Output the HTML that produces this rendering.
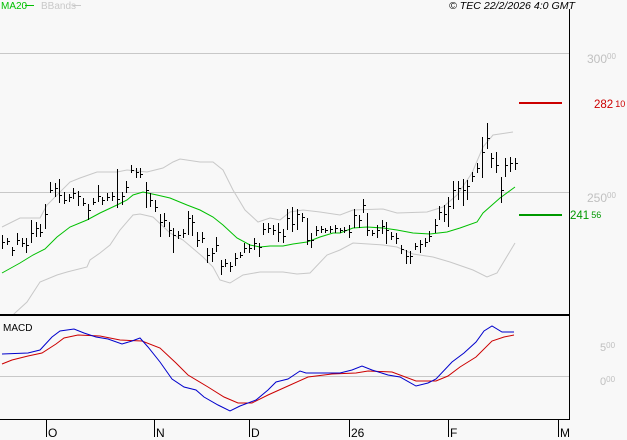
<!DOCTYPE html>
<html><head><meta charset="utf-8"><style>
html,body{margin:0;padding:0;background:#f8f8f8;}
svg{display:block;font-family:"Liberation Sans",sans-serif;}
</style></head><body>
<svg width="627" height="440" viewBox="0 0 627 440" xmlns="http://www.w3.org/2000/svg">
<rect x="0" y="0" width="627" height="440" fill="#f8f8f8"/>
<text x="1" y="9" font-size="10" fill="#00c000">MA20</text>
<line x1="25" y1="5.5" x2="34" y2="5.5" stroke="#00c000" stroke-width="1"/>
<text x="41" y="9" font-size="10" fill="#c8c8c8">BBands</text>
<line x1="73" y1="5.5" x2="81" y2="5.5" stroke="#c8c8c8" stroke-width="1"/>
<text x="449" y="9" font-size="10.5" font-style="italic" fill="#000" textLength="126" lengthAdjust="spacingAndGlyphs">© TEC 22/2/2026 4:0 GMT</text>
<g shape-rendering="crispEdges">
<line x1="0" y1="53.5" x2="569" y2="53.5" stroke="#c8c8c8"/>
<line x1="0" y1="192.5" x2="569" y2="192.5" stroke="#c8c8c8"/>
<line x1="0" y1="376.5" x2="569" y2="376.5" stroke="#c8c8c8"/>
</g>
<g fill="none" stroke="#c8c8c8" stroke-width="1">
<polyline points="2,227 20,218 40,218 47,205 70,182 80,178 97,172 117,172 127,170 147,172 163,168 173,162 180,159 200,162 213,162 223,170 233,190 245,210 258,222 270,218 280,220 290,212 303,210 320,212 340,215 353,210 383,209 397,213 427,212 443,207 457,195 472,173 483,147 493,135 513,132"/>
<polyline points="13,315 15,313 27,302 40,282 57,275 67,272 87,267 90,260 100,253 110,245 120,230 133,215 140,214 153,217 170,233 183,240 203,257 213,267 220,280 230,283 243,275 260,272 283,272 297,274 310,273 327,255 340,250 353,243 383,245 397,247 413,254 433,257 450,262 473,270 487,277 497,273 503,263 515,243"/>
</g>
<polyline fill="none" stroke="#00c000" stroke-width="1" points="2,273 20,263 33,255 45,249 57,237 70,227 87,220 100,213 117,205 127,200 133,195 143,192 157,195 170,198 187,205 200,210 213,217 223,225 237,238 250,245 260,247 270,246 283,246 293,244 307,242 320,237 333,233 340,233 353,228 367,227 383,228 397,230 413,233 430,234 447,232 460,228 477,222 483,213 500,198 515,187"/>
<path fill="none" stroke="#000" stroke-width="1" shape-rendering="crispEdges" d="M2.5,235V249M3,242.5h2 M7.5,238V245M8,241.5h2 M12.5,247V256M13,250.5h2 M17.5,233V245M18,240.5h2 M22.5,238V247M23,243.5h2 M26.5,238V253M27,245.5h2 M31.5,220V243M32,233.5h2 M36.5,222V237M37,228.5h2 M40.5,224V237M41,232.5h2 M45.5,204V229M46,214.5h2 M50.5,182V193M51,190.5h2 M55.5,183V197M56,188.5h2 M59.5,179V203M60,195.5h2 M64.5,192V204M65,200.5h2 M69.5,194V202M70,197.5h2 M73.5,188V199M74,193.5h2 M78.5,191V206M79,196.5h2 M83.5,198V206M84,203.5h2 M88.5,204V220M89,210.5h2 M93.5,198V205M94,202.5h2 M98.5,185V202M99,196.5h2 M102.5,197V205M103,200.5h2 M107.5,193V201M108,197.5h2 M112.5,192V201M113,196.5h2 M117.5,169V208M118,199.5h2 M122.5,192V205M123,196.5h2 M126.5,181V193M127,187.5h2 M131.5,165V173M132,170.5h2 M136.5,168V178M137,172.5h2 M140.5,168V178M141,174.5h2 M146.5,182V208M147,190.5h2 M150.5,193V207M151,200.5h2 M155.5,200V212M156,207.5h2 M160.5,214V237M161,222.5h2 M164.5,213V227M165,220.5h2 M169.5,222V237M170,230.5h2 M173.5,228V253M174,235.5h2 M178.5,231V239M179,235.5h2 M183.5,229V238M184,233.5h2 M188.5,211V235M189,218.5h2 M192.5,215V236M193,222.5h2 M197.5,232V247M198,240.5h2 M202.5,232V243M203,238.5h2 M207.5,248V263M208,255.5h2 M212.5,248V262M213,253.5h2 M216.5,237V252M217,245.5h2 M221.5,260V275M222,266.5h2 M225.5,259V267M226,263.5h2 M230.5,262V272M231,266.5h2 M235.5,253V266M236,258.5h2 M240.5,252V258M241,255.5h2 M244.5,243V253M245,248.5h2 M249.5,244V253M250,248.5h2 M254.5,238V250M255,243.5h2 M259.5,243V257M260,247.5h2 M263.5,223V235M264,229.5h2 M268.5,223V233M269,228.5h2 M273.5,225V235M274,230.5h2 M278.5,223V242M279,232.5h2 M283.5,229V243M284,236.5h2 M287.5,209V230M288,218.5h2 M292.5,207V232M293,224.5h2 M297.5,209V230M298,214.5h2 M302.5,213V222M303,217.5h2 M307.5,218V245M308,240.5h2 M311.5,233V248M312,240.5h2 M316.5,226V236M317,230.5h2 M321.5,226V233M322,229.5h2 M325.5,228V233M326,230.5h2 M330.5,226V233M331,229.5h2 M335.5,225V233M336,228.5h2 M340.5,228V233M341,230.5h2 M344.5,227V233M345,230.5h2 M349.5,225V238M350,232.5h2 M354.5,209V228M355,215.5h2 M359.5,215V228M360,220.5h2 M363.5,199V213M364,205.5h2 M367.5,213V236M368,230.5h2 M372.5,230V236M373,233.5h2 M377.5,225V238M378,230.5h2 M382.5,220V234M383,226.5h2 M386.5,222V244M387,230.5h2 M391.5,232V240M392,236.5h2 M396.5,233V244M397,238.5h2 M401.5,245V254M402,249.5h2 M406.5,250V264M407,256.5h2 M410.5,251V264M411,256.5h2 M415.5,243V250M416,246.5h2 M420.5,240V253M421,244.5h2 M425.5,238V247M426,242.5h2 M429.5,231V242M430,236.5h2 M435.5,219V233M436,225.5h2 M439.5,206V220M440,212.5h2 M444.5,205V222M445,214.5h2 M448.5,197V227M449,206.5h2 M453.5,181V209M454,190.5h2 M458.5,181V200M459,188.5h2 M463.5,179V206M464,190.5h2 M467.5,180V200M468,186.5h2 M472.5,172V182M473,176.5h2 M477.5,163V173M478,168.5h2 M482.5,137V178M483,152.5h2 M487.5,123V149M488,138.5h2 M491.5,153V168M492,158.5h2 M496.5,152V173M497,165.5h2 M501.5,177V203M502,190.5h2 M505.5,158V177M506,165.5h2 M510.5,157V172M511,163.5h2 M515.5,158V170M516,163.5h2"/>
<rect x="519" y="102" width="43" height="2" fill="#cc0000"/>
<rect x="519" y="214" width="43" height="2" fill="#009900"/>
<g shape-rendering="crispEdges">
<rect x="569" y="9" width="1" height="411" fill="#000"/>
<rect x="0" y="314" width="570" height="2" fill="#000"/>
<rect x="0" y="419" width="570" height="1" fill="#000"/>
<rect x="46" y="419" width="1" height="18" fill="#000"/>
<rect x="154" y="419" width="1" height="18" fill="#000"/>
<rect x="249" y="419" width="1" height="18" fill="#000"/>
<rect x="349" y="419" width="1" height="18" fill="#000"/>
<rect x="448" y="419" width="1" height="18" fill="#000"/>
<rect x="558" y="419" width="1" height="18" fill="#000"/>
</g>
<g font-size="12" fill="#000">
<text x="48" y="437">O</text>
<text x="156" y="437">N</text>
<text x="251" y="437">D</text>
<text x="351" y="437">26</text>
<text x="450" y="437">F</text>
<text x="560" y="437">M</text>
</g>
<g fill="#c0c0c0">
<text x="587" y="63" font-size="12">300<tspan font-size="8" dy="-4">00</tspan></text>
<text x="587" y="202" font-size="12">250<tspan font-size="8" dy="-4">00</tspan></text>
</g>
<text x="594" y="108" font-size="11.5" fill="#cc0000">282<tspan font-size="9" dy="-1" dx="2">10</tspan></text>
<text x="570" y="219" font-size="11.5" fill="#009900">241<tspan font-size="9" dy="-1" dx="2">56</tspan></text>
<text x="3" y="331" font-size="10" fill="#000">MACD</text>
<g fill="#c0c0c0">
<text x="600" y="351" font-size="11">5<tspan font-size="8" dy="-3">00</tspan></text>
<text x="600" y="385" font-size="11">0<tspan font-size="8" dy="-3">00</tspan></text>
</g>
<polyline fill="none" stroke="#cc0000" stroke-width="1" points="2,364 12,360 28,356 42,353 56,344 64,338 78,335 100,336 120,340 142,341 160,348 176,363 188,375 208,387 224,397 238,403 252,403 268,395 288,386 308,377 332,374 356,373 368,371 392,372 416,381 436,381 448,376 460,367 476,357 492,341 504,337 514,335"/>
<polyline fill="none" stroke="#0000cc" stroke-width="1" points="2,354 28,353 40,350 52,337 60,331 74,329 84,333 96,337 108,339 122,344 132,341 140,338 148,347 160,362 172,379 184,387 196,390 204,397 218,405 230,411 240,406 256,400 268,390 276,382 288,379 300,371 306,373 320,373 340,373 352,370 362,366 372,370 388,375 400,377 416,386 428,383 436,379 452,362 464,353 476,342 484,331 492,326 502,332 514,332"/>
</svg>
</body></html>
